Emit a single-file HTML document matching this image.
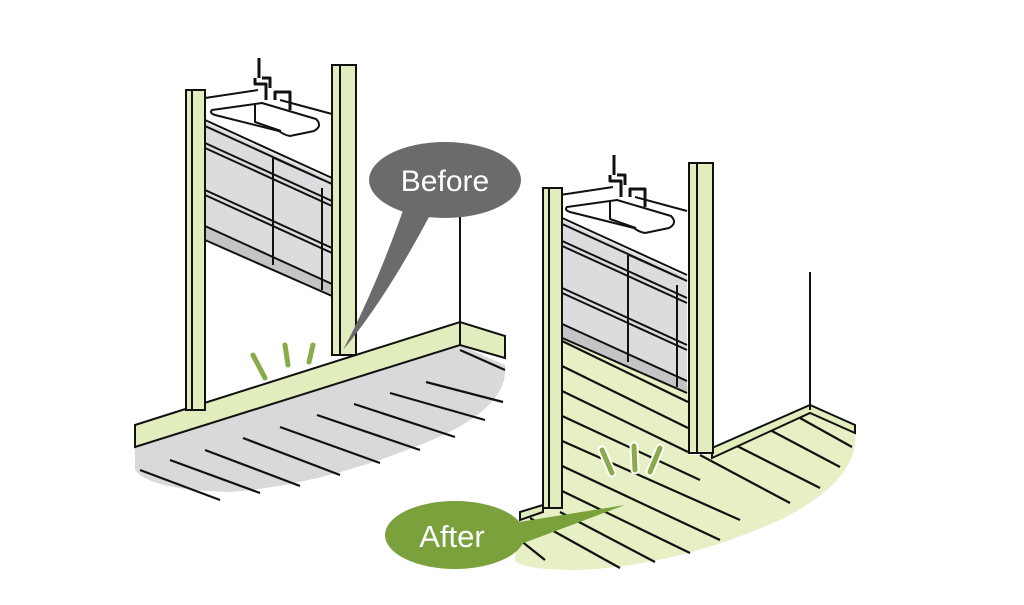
<!DOCTYPE html>
<html><head><meta charset="utf-8"><style>
html,body{margin:0;padding:0;background:#fff;}
svg{display:block;}
text{font-family:"Liberation Sans",sans-serif;}
</style></head><body>
<svg width="1024" height="605" viewBox="0 0 1024 605" xmlns="http://www.w3.org/2000/svg">
<defs>
<g id="vanity" stroke="#111" stroke-width="2" stroke-linejoin="round" fill="none">
  <polygon points="205,122 332,180 332,295 205,240" fill="#dcdcde" stroke="none"/>
  <polygon points="205,226 332,284 332,295 205,240" fill="#c4c4c6" stroke="none"/>
  <line x1="205" y1="98" x2="258" y2="90"/>
  <line x1="280" y1="100" x2="332" y2="114"/>
  <path d="M212,110 L262,103 L316,119 Q323,126 314,131 L290,136 Q284,135 279,131 L215,115 Q209,113 212,110 Z" fill="#fff"/>
  <path d="M255,103 L255,122 L281,131"/>
  <path d="M259,58 L259,78 M255,78 L255,84 L266,84 L266,100 M262,78 L270,78 L270,88" stroke-width="3"/>
  <path d="M275,100 L275,92 L290,92 L290,110" stroke-width="3"/>
  <line x1="205" y1="120" x2="332" y2="178"/>
  <line x1="205" y1="126" x2="332" y2="184"/>
  <line x1="205" y1="143" x2="332" y2="201"/>
  <line x1="205" y1="148" x2="332" y2="206"/>
  <line x1="205" y1="190" x2="332" y2="248"/>
  <line x1="205" y1="195" x2="332" y2="253"/>
  <line x1="205" y1="226" x2="332" y2="284"/>
  <line x1="205" y1="240" x2="332" y2="296"/>
  <line x1="273" y1="158" x2="273" y2="265"/>
  <line x1="322" y1="188" x2="322" y2="290"/>
  <line x1="273" y1="158" x2="322" y2="180" stroke-width="1"/>
</g>
<g id="posts" stroke="#111" stroke-width="2" fill="#e2edbd">
  <rect x="186" y="90" width="19" height="320"/>
  <line x1="192" y1="90" x2="192" y2="410"/>
  <rect x="332" y="65" width="24" height="290"/>
  <line x1="340" y1="65" x2="340" y2="355"/>
</g>
</defs>

<!-- LEFT FLOOR -->
<path d="M135,447 L460,345 L505,365 Q510,410 420,445 Q320,485 230,492 Q150,490 135,470 Z" fill="#d9d9db"/>
<g stroke="#111" stroke-width="2.2">
  <line x1="140" y1="470" x2="220" y2="500"/>
  <line x1="170" y1="460" x2="260" y2="493"/>
  <line x1="205" y1="450" x2="300" y2="486"/>
  <line x1="243" y1="438" x2="340" y2="475"/>
  <line x1="280" y1="427" x2="380" y2="463"/>
  <line x1="317" y1="415" x2="420" y2="450"/>
  <line x1="354" y1="404" x2="455" y2="437"/>
  <line x1="390" y1="393" x2="485" y2="420"/>
  <line x1="426" y1="382" x2="503" y2="402"/>
  <line x1="460" y1="350" x2="505" y2="370"/>
</g>
<!-- left baseboard -->
<polygon points="135,425 460,322 505,336 505,358 460,345 135,447" fill="#e2edbd" stroke="#111" stroke-width="2"/>
<line x1="460" y1="322" x2="460" y2="345" stroke="#111" stroke-width="2"/>
<line x1="460" y1="210" x2="460" y2="322" stroke="#111" stroke-width="2"/>
<use href="#vanity"/>
<use href="#posts"/>
<!-- left marks -->
<g stroke="#8aab4a" stroke-width="5" stroke-linecap="round">
  <line x1="253" y1="355" x2="265" y2="378"/>
  <line x1="285" y1="345" x2="288" y2="365"/>
  <line x1="313" y1="345" x2="309" y2="362"/>
</g>
<!-- Before bubble -->
<path d="M405,205 Q375,290 343,350 Q385,300 430,215 Z" fill="#6b6b6d"/>
<ellipse cx="445" cy="180" rx="76" ry="38" fill="#6b6b6d"/>
<text x="445" y="191" text-anchor="middle" fill="#fff" font-size="30">Before</text>

<!-- RIGHT FLOOR / WALL -->
<path d="M560,325 L688,385 L688,455 L712,455 L810,410 L855,432 Q860,480 780,520 Q680,565 580,570 Q520,570 515,560 L520,512 L543,505 L560,505 Z" fill="#e6f0c4"/>
<g transform="translate(355,97)">
  <use href="#vanity"/>
</g>
<g stroke="#111" stroke-width="2.2">
  <line x1="560" y1="340" x2="688" y2="402"/>
  <line x1="560" y1="365" x2="688" y2="428"/>
  <line x1="560" y1="390" x2="688" y2="452"/>
  <line x1="560" y1="415" x2="700" y2="480"/>
  <line x1="560" y1="440" x2="740" y2="520"/>
  <line x1="560" y1="465" x2="720" y2="540"/>
  <line x1="560" y1="490" x2="690" y2="553"/>
  <line x1="560" y1="512" x2="655" y2="562"/>
  <line x1="530" y1="518" x2="620" y2="568"/>
  <line x1="520" y1="540" x2="545" y2="560"/>
  <line x1="700" y1="455" x2="790" y2="503"/>
  <line x1="735" y1="445" x2="820" y2="488"/>
  <line x1="770" y1="430" x2="840" y2="467"/>
  <line x1="800" y1="418" x2="852" y2="447"/>
</g>
<polygon points="712,448 810,405 855,425 855,433 810,413 712,458" fill="#e2edbd" stroke="#111" stroke-width="2"/>
<line x1="810" y1="272" x2="810" y2="410" stroke="#111" stroke-width="2"/>
<polygon points="520,512 543,505 543,512 520,520" fill="#e2edbd" stroke="#111" stroke-width="2"/>
<g transform="translate(357,98)">
  <use href="#posts"/>
</g>
<!-- right marks -->
<g stroke="#fff" stroke-width="9" stroke-linecap="round">
  <line x1="602" y1="450" x2="612" y2="473"/>
  <line x1="634" y1="446" x2="635" y2="470"/>
  <line x1="660" y1="448" x2="650" y2="472"/>
</g>
<g stroke="#8aab4a" stroke-width="5" stroke-linecap="round">
  <line x1="602" y1="450" x2="612" y2="473"/>
  <line x1="634" y1="446" x2="635" y2="470"/>
  <line x1="660" y1="448" x2="650" y2="472"/>
</g>
<!-- After bubble -->
<path d="M500,525 L625,505 L505,550 Z" fill="#7aa13c"/>
<ellipse cx="455" cy="535" rx="70" ry="34" fill="#7aa13c"/>
<text x="452" y="547" text-anchor="middle" fill="#fff" font-size="31">After</text>
</svg>
</body></html>
